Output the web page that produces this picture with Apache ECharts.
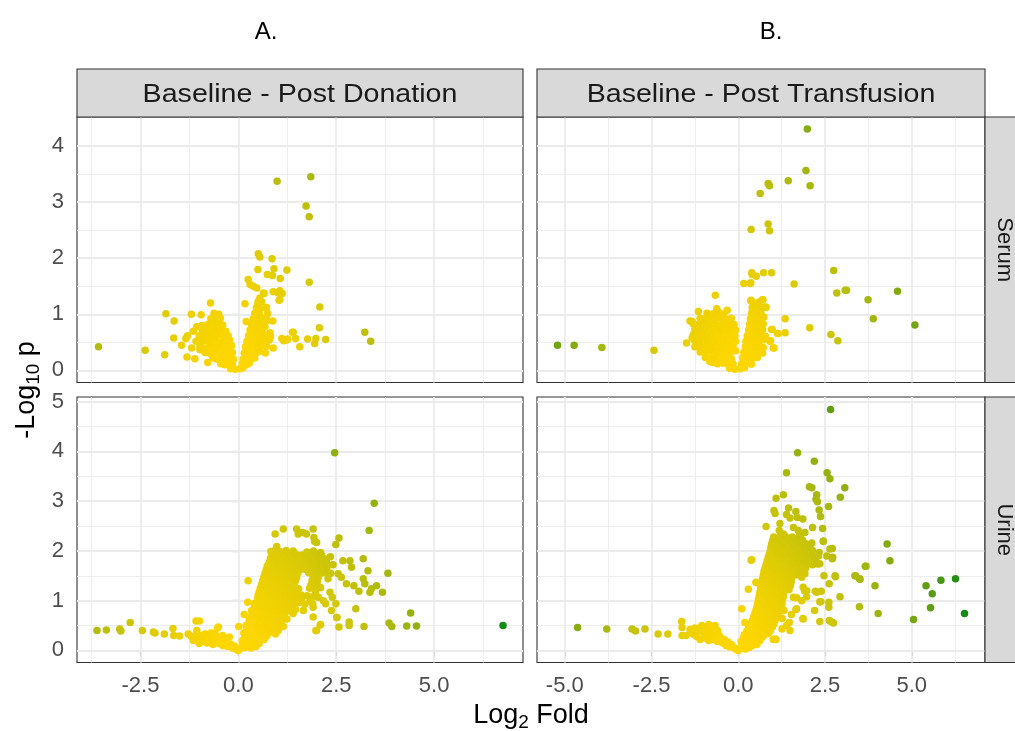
<!DOCTYPE html>
<html><head><meta charset="utf-8">
<script src="https://cdn.jsdelivr.net/npm/echarts@6/dist/echarts.min.js"></script>
<style>html,body{margin:0;padding:0;background:#fff}#c{width:1015px;height:731px}</style>
</head><body><div id="c"></div>
<script>
// ---------- data ----------
const columnTags = ['A.', 'B.'];
const panelTitles = ['Baseline - Post Donation', 'Baseline - Post Transfusion'];
const rowLabels = ['Serum', 'Urine'];
const xTitle = ['Log', '2', ' Fold'];
const yTitle = ['-Log', '10', ' p'];
const xTicksDonation = [-2.5, 0, 2.5, 5];
const xTicksTransfusion = [-5, -2.5, 0, 2.5, 5];
const xMinorTicks = [-3.75, -1.25, 1.25, 3.75, 6.25];
const yTicksSerum = [0, 1, 2, 3, 4];
const yTicksUrine = [0, 1, 2, 3, 4, 5];
const yMinorSerum = [0.5, 1.5, 2.5, 3.5];
const yMinorUrine = [0.5, 1.5, 2.5, 3.5, 4.5];

const serumDonation = [
[-3.57,0.42],[-2.38,0.36],[-1.88,0.28],[-1.85,1.01],[-1.64,0.88],[-1.65,0.58],[-1.34,0.57],[-1.31,0.24],[-1.2,1.0],[-1.11,0.21],[-0.95,0.99],[-0.78,0.14],[-0.71,1.2],
[-1.19,0.40],[-0.98,0.37],[-0.85,0.36],[-1.15,0.70],[-1.06,0.78],[-0.93,0.80],[-1.3,0.62],[-1.45,0.45],
[0.99,3.37],[1.85,3.45],[1.73,2.93],[1.81,2.74],[1.81,1.57],[2.08,1.13],[2.07,0.76],[3.23,0.68],[3.38,0.52],[2.23,0.55],[1.98,0.57],[1.95,0.48],[1.77,0.56],[1.57,0.42],[1.46,0.57],[1.38,0.68],[1.26,0.56],[1.16,0.53],[1.11,0.57],[1.23,0.54],[1.40,0.68],
[0.51,2.08],[0.55,2.02],[0.86,1.99],[0.50,1.80],[0.91,1.81],[1.24,1.79],[0.74,1.71],[0.87,1.69],[1.07,1.64],[0.25,1.62],[0.30,1.53],[0.38,1.50],[0.47,1.47],[0.66,1.37],[0.89,1.40],[1.06,1.42],[1.12,1.37],[1.04,1.25],[0.64,1.38],[1.02,1.38],[1.06,1.26],
[0.17,1.19],[0.55,1.29],[0.51,1.23],[0.72,1.12],[0.71,1.11],[0.88,0.88],[0.74,0.89],[0.75,1.01],[0.20,0.87],[0.68,0.78],[0.69,0.31],[0.82,0.60],[0.81,0.67],[0.79,0.54],[0.89,0.40],[0.72,0.43],[0.64,0.55],
[-0.2,0.03],[-0.08,0.02],[0.05,0.03],[0.12,0.05],
[-0.45,0.12],[-0.35,0.1],[-0.25,0.12],[-0.15,0.1],[0.1,0.12],[0.2,0.1],[0.28,0.13],
[-0.65,0.22],[-0.55,0.2],[-0.45,0.23],[-0.35,0.21],[-0.22,0.22],[-0.12,0.2],[0.12,0.2],[0.22,0.23],[0.32,0.2],[0.42,0.22],
[-0.85,0.32],[-0.72,0.3],[-0.6,0.33],[-0.48,0.31],[-0.36,0.33],[-0.25,0.3],[-0.15,0.32],[0.15,0.31],[0.26,0.33],[0.36,0.3],[0.47,0.32],[0.55,0.34],
[-0.98,0.42],[-0.85,0.4],[-0.72,0.43],[-0.6,0.41],[-0.48,0.43],[-0.36,0.4],[-0.25,0.42],[-0.17,0.44],[0.18,0.42],[0.28,0.4],[0.38,0.43],[0.5,0.41],[0.6,0.44],
[-1.08,0.52],[-0.95,0.5],[-0.82,0.53],[-0.7,0.51],[-0.58,0.53],[-0.46,0.5],[-0.34,0.52],[-0.22,0.54],[0.22,0.52],[0.32,0.5],[0.42,0.53],[0.52,0.51],[0.62,0.54],
[-1.0,0.62],[-0.88,0.6],[-0.75,0.63],[-0.63,0.61],[-0.5,0.63],[-0.38,0.6],[-0.26,0.62],[0.26,0.62],[0.36,0.6],[0.46,0.63],[0.56,0.61],[0.65,0.64],
[-0.92,0.72],[-0.8,0.7],[-0.68,0.73],[-0.55,0.71],[-0.43,0.73],[-0.32,0.7],[0.3,0.72],[0.4,0.7],[0.5,0.73],[0.6,0.71],
[-0.78,0.82],[-0.65,0.8],[-0.52,0.83],[-0.4,0.81],[0.34,0.82],[0.44,0.8],[0.54,0.83],[0.66,0.81],
[-0.7,0.92],[-0.58,0.9],[-0.46,0.93],[0.38,0.92],[0.5,0.9],[0.6,0.93],
[-0.62,1.02],[-0.5,1.0],[0.42,1.02],[0.54,1.0],
[0.46,1.12],[0.56,1.1],[0.5,1.2],[0.6,1.22]
];

const serumTransfusion = [
[1.99,4.30],[1.95,3.56],[1.44,3.38],[2.07,3.29],[0.86,3.33],[0.90,3.29],[0.63,3.15],[0.37,2.51],[0.86,2.61],[0.90,2.49],
[2.75,1.78],[0.40,1.71],[0.52,1.68],[0.73,1.74],[0.96,1.74],[0.39,1.74],[0.16,1.55],[0.34,1.55],[0.36,1.56],[1.61,1.54],[2.84,1.38],[3.08,1.43],[3.12,1.43],[3.74,1.26],[4.59,1.41],[3.89,0.92],[5.09,0.81],
[2.06,0.76],[2.67,0.64],[2.87,0.53],[1.35,0.92],[1.35,0.67],[1.13,0.66],[0.98,0.73],[0.93,0.53],[1.03,0.40],[0.91,0.52],[0.96,0.73],[1.15,0.66],[1.01,0.40],
[0.71,1.26],[0.70,1.26],[0.80,1.12],[0.79,1.13],[0.36,1.24],[0.37,1.25],[0.43,1.17],[-0.66,1.34],
[-5.21,0.45],[-4.73,0.45],[-3.93,0.41],[-2.43,0.36],[-1.49,0.49],[-1.33,0.58],[-1.25,0.42],[-1.03,0.39],[-1.33,0.87],[-1.15,1.05],[-0.62,1.10],[-0.32,1.07],[-0.82,0.16],[-1.39,0.88],
[-0.25,0.04],[-0.1,0.02],[0.05,0.03],[0.18,0.05],
[-0.75,0.14],[-0.6,0.12],[-0.45,0.13],[-0.3,0.11],[-0.15,0.12],[0.1,0.12],[0.25,0.13],[0.38,0.11],
[-0.95,0.23],[-0.8,0.22],[-0.65,0.24],[-0.5,0.22],[-0.35,0.23],[-0.2,0.21],[0.13,0.22],[0.28,0.24],[0.42,0.22],[0.55,0.23],
[-1.1,0.33],[-0.95,0.32],[-0.8,0.34],[-0.65,0.32],[-0.5,0.33],[-0.35,0.31],[-0.2,0.33],[-0.08,0.35],[0.16,0.32],[0.3,0.34],[0.44,0.32],[0.58,0.33],[0.7,0.31],
[-1.2,0.43],[-1.05,0.42],[-0.9,0.44],[-0.75,0.42],[-0.6,0.43],[-0.45,0.41],[-0.3,0.43],[-0.15,0.44],[0.2,0.42],[0.33,0.44],[0.47,0.42],[0.6,0.43],[0.72,0.41],
[-1.25,0.53],[-1.1,0.52],[-0.95,0.54],[-0.8,0.52],[-0.65,0.53],[-0.5,0.51],[-0.35,0.53],[-0.2,0.54],[-0.08,0.52],[0.22,0.52],[0.36,0.54],[0.5,0.52],[0.63,0.53],[0.75,0.55],
[-1.3,0.63],[-1.15,0.62],[-1.0,0.64],[-0.85,0.62],[-0.7,0.63],[-0.55,0.61],[-0.4,0.63],[-0.25,0.64],[-0.1,0.62],[0.26,0.62],[0.4,0.64],[0.53,0.62],[0.66,0.63],[0.78,0.61],
[-1.25,0.73],[-1.1,0.72],[-0.95,0.74],[-0.8,0.72],[-0.65,0.73],[-0.5,0.71],[-0.35,0.73],[-0.2,0.74],[-0.08,0.72],[0.3,0.72],[0.43,0.74],[0.56,0.72],[0.7,0.73],
[-1.3,0.83],[-1.15,0.82],[-1.0,0.84],[-0.85,0.82],[-0.7,0.83],[-0.55,0.81],[-0.4,0.83],[-0.25,0.84],[-0.12,0.82],[0.32,0.82],[0.45,0.84],[0.58,0.82],[0.72,0.83],
[-1.1,0.93],[-0.95,0.92],[-0.8,0.94],[-0.65,0.92],[-0.5,0.93],[-0.35,0.91],[-0.2,0.93],[0.35,0.92],[0.48,0.94],[0.6,0.92],[0.74,0.95],
[-0.9,1.02],[-0.72,1.01],[-0.55,1.03],[-0.42,1.0],[0.38,1.02],[0.52,1.01],[0.65,1.03],
[0.4,1.12],[0.55,1.11],[0.68,1.13],[0.45,1.2],[0.6,1.22]
];

const urineDonation = [
[-3.61,0.40],[-3.37,0.41],[-3.03,0.43],[-3.0,0.39],[-2.76,0.56],[-2.45,0.40],[-2.17,0.37],[-2.13,0.35],[-1.89,0.33],[-1.67,0.44],[-1.65,0.30],[-1.5,0.29],[-1.28,0.33],[-1.08,0.59],[-0.99,0.59],[-1.06,0.40],[-1.1,0.30],[-1.02,0.23],[-0.53,0.45],[-0.23,0.27],[-0.51,0.47],
[-1.2,0.28],[-1.15,0.2],[-0.95,0.3],[-0.92,0.18],[-0.85,0.26],[-0.8,0.15],[-0.75,0.22],[-0.68,0.27],[-0.65,0.12],[-0.6,0.2],[-0.55,0.28],[-0.5,0.14],[-0.45,0.22],[-0.4,0.1],[-0.35,0.17],[-0.3,0.24],[-0.28,0.08],[-0.2,0.13],[-0.15,0.05],[-0.1,0.09],[-0.05,0.02],[0,0],[-0.7,0.35],[-0.85,0.33],[-1.0,0.14],[-0.4,0.3],[-0.6,0.34],
[0.05,0.04],[0.18,0.06],[0.32,0.05],[0.45,0.08],
[0.11,0.12],[0.25,0.13],[0.39,0.12],[0.53,0.14],
[0.1,0.2],[0.24,0.19],[0.38,0.21],[0.52,0.2],[0.66,0.22],
[0.17,0.27],[0.31,0.28],[0.45,0.26],[0.59,0.27],[0.73,0.29],
[0.14,0.35],[0.28,0.34],[0.42,0.36],[0.56,0.35],[0.7,0.34],[0.84,0.37],[0.95,0.33],
[0.21,0.42],[0.35,0.43],[0.49,0.41],[0.63,0.42],[0.77,0.44],[0.91,0.42],[1.02,0.4],
[0.2,0.5],[0.34,0.49],[0.48,0.51],[0.62,0.5],[0.76,0.49],[0.9,0.52],[1.04,0.5],[1.15,0.48],
[0.27,0.57],[0.41,0.58],[0.55,0.56],[0.69,0.57],[0.83,0.59],[0.97,0.57],[1.1,0.56],
[0.28,0.65],[0.42,0.64],[0.56,0.66],[0.7,0.65],[0.84,0.64],[0.98,0.66],[1.12,0.65],[1.24,0.63],
[0.35,0.72],[0.49,0.73],[0.63,0.71],[0.77,0.72],[0.91,0.74],[1.05,0.72],[1.18,0.71],
[0.34,0.8],[0.48,0.79],[0.62,0.81],[0.76,0.8],[0.9,0.79],[1.04,0.81],[1.18,0.8],[1.32,0.79],[1.46,0.82],
[0.41,0.87],[0.55,0.88],[0.69,0.86],[0.83,0.87],[0.97,0.89],[1.11,0.87],[1.25,0.86],[1.39,0.88],
[0.42,0.95],[0.56,0.94],[0.7,0.96],[0.84,0.95],[0.98,0.94],[1.12,0.96],[1.26,0.95],[1.4,0.94],[1.54,0.96],[1.7,0.93],
[0.49,1.02],[0.63,1.03],[0.77,1.01],[0.91,1.02],[1.05,1.04],[1.19,1.02],[1.33,1.01],[1.47,1.03],[1.61,1.02],
[0.5,1.1],[0.64,1.09],[0.78,1.11],[0.92,1.1],[1.06,1.09],[1.2,1.11],[1.34,1.1],[1.48,1.09],[1.62,1.11],[1.76,1.1],[1.9,1.08],
[0.53,1.17],[0.67,1.18],[0.81,1.16],[0.95,1.17],[1.09,1.19],[1.23,1.17],[1.37,1.16],[1.51,1.18],[1.97,1.18],
[0.56,1.25],[0.7,1.24],[0.84,1.26],[0.98,1.25],[1.12,1.24],[1.26,1.26],[1.4,1.25],[1.54,1.24],[1.82,1.25],[1.96,1.24],[2.1,1.26],
[0.59,1.32],[0.73,1.33],[0.87,1.31],[1.01,1.32],[1.15,1.34],[1.29,1.32],[1.43,1.31],[1.85,1.31],[1.99,1.33],
[0.62,1.4],[0.76,1.39],[0.9,1.41],[1.04,1.4],[1.18,1.39],[1.32,1.41],[1.46,1.4],[1.88,1.4],[2.02,1.39],
[0.65,1.47],[0.79,1.48],[0.93,1.46],[1.07,1.47],[1.21,1.49],[1.35,1.47],[1.49,1.46],[1.91,1.46],[2.05,1.48],
[0.68,1.55],[0.82,1.54],[0.96,1.56],[1.1,1.55],[1.24,1.54],[1.38,1.56],[1.52,1.55],[1.8,1.56],[1.94,1.55],[2.08,1.54],[2.22,1.56],[2.36,1.55],
[0.71,1.62],[0.85,1.63],[0.99,1.61],[1.13,1.62],[1.27,1.64],[1.41,1.62],[1.55,1.61],[1.69,1.63],[1.83,1.62],[1.97,1.61],[2.11,1.63],[2.26,1.62],
[0.74,1.7],[0.88,1.69],[1.02,1.71],[1.16,1.7],[1.3,1.69],[1.44,1.71],[1.58,1.7],[1.72,1.69],[1.86,1.71],[2.0,1.7],[2.14,1.69],[2.28,1.71],[2.42,1.72],
[0.79,1.77],[0.93,1.78],[1.07,1.76],[1.21,1.77],[1.35,1.79],[1.49,1.77],[1.63,1.76],[1.77,1.78],[1.93,1.77],[2.09,1.76],[2.25,1.78],
[0.82,1.85],[0.96,1.84],[1.1,1.86],[1.24,1.85],[1.38,1.84],[1.52,1.86],[1.7,1.85],[1.86,1.84],[2.02,1.86],[2.18,1.85],[2.35,1.88],
[0.87,1.92],[1.01,1.93],[1.15,1.91],[1.3,1.92],[1.46,1.94],[1.62,1.92],[1.78,1.91],[1.96,1.93],[2.12,1.92],
[0.9,2.0],[1.06,1.99],[1.22,2.01],[1.4,2.0],[1.75,1.98],[1.92,2.0],[2.1,1.97],
[0.83,1.99],[0.98,2.09],[0.94,2.34],[1.15,2.44],[1.49,2.44],[1.53,2.34],[1.64,2.37],[1.91,2.44],[1.93,2.27],[2.0,2.17],[1.74,2.34],[1.95,2.19],[2.57,2.26],[2.49,2.13],[3.34,2.41],[2.46,3.97],[3.47,2.96],
[2.67,1.8],[2.85,1.8],[3.19,1.84],[2.89,1.67],[3.31,1.6],[3.82,1.55],[2.76,1.34],[2.95,1.30],[3.08,1.19],[3.19,1.44],[3.23,1.34],[3.4,1.24],[3.53,1.30],[3.68,1.17],[3.36,1.17],[2.63,1.47],[2.55,1.54],[2.29,1.44],[2.34,1.17],[2.4,1.07],[2.23,0.94],[2.38,0.8],[2.49,0.94],[3.0,0.84],[2.51,0.66],[2.83,0.57],[2.83,0.50],[2.57,0.47],[3.21,0.48],[3.85,0.55],[3.92,0.48],[4.3,0.49],[4.55,0.49],[4.4,0.75],[2.1,0.52],[2.0,0.4],[1.91,0.67],[2.08,1.27],[2.04,1.07],[2.17,1.0],[1.83,1.0],[1.91,0.87],[1.4,0.74],[6.76,0.50],
[1.66,0.8],[1.9,0.94],[1.98,0.4],[2.09,0.51],[2.52,0.66],
[0.25,1.40],[0.24,0.97],[0.15,0.72],[0.01,0.48]
];

const urineTransfusion = [
[-4.63,0.46],[-3.79,0.43],[-3.06,0.43],[-2.96,0.39],[-2.69,0.43],[-2.31,0.33],[-2.03,0.33],[-1.63,0.58],[-1.62,0.46],[-1.62,0.30],[-1.5,0.30],[-1.39,0.42],[-1.28,0.32],
[-1.05,0.5],[-0.95,0.47],[-0.85,0.52],[-0.75,0.45],[-0.67,0.5],[-1.1,0.4],[-1.0,0.35],[-0.9,0.38],[-0.8,0.34],[-0.7,0.36],[-0.6,0.4],[-0.55,0.3],[-1.2,0.28],[-1.1,0.22],[-0.95,0.25],[-0.85,0.2],[-0.7,0.22],[-0.6,0.18],[-0.5,0.25],[-0.45,0.15],[-0.4,0.22],[-0.35,0.1],[-0.3,0.17],[-0.25,0.07],[-0.2,0.12],[-0.12,0.05],[-0.05,0.02],[0,0],[-1.35,0.35],[-1.25,0.45],
[0.05,0.05],[0.2,0.03],[0.32,0.06],
[0.12,0.11],[0.26,0.12],[0.4,0.1],[0.54,0.12],
[0.08,0.18],[0.22,0.17],[0.36,0.19],[0.5,0.18],[0.62,0.2],
[0.14,0.25],[0.28,0.26],[0.42,0.24],[0.56,0.25],[0.7,0.27],
[0.18,0.32],[0.32,0.31],[0.46,0.33],[0.6,0.32],[0.74,0.31],[0.86,0.34],
[0.25,0.39],[0.39,0.4],[0.53,0.38],[0.67,0.39],[0.81,0.41],[0.92,0.39],
[0.3,0.46],[0.44,0.45],[0.58,0.47],[0.72,0.46],[0.86,0.45],[0.98,0.47],
[0.36,0.53],[0.5,0.54],[0.64,0.52],[0.78,0.53],[0.92,0.55],[1.03,0.53],
[0.4,0.6],[0.54,0.59],[0.68,0.61],[0.82,0.6],[0.96,0.59],[1.08,0.62],
[0.44,0.67],[0.58,0.68],[0.72,0.66],[0.86,0.67],[1.0,0.69],[1.12,0.67],
[0.48,0.74],[0.62,0.73],[0.76,0.75],[0.9,0.74],[1.04,0.73],[1.16,0.76],
[0.51,0.81],[0.65,0.82],[0.79,0.8],[0.93,0.81],[1.07,0.83],[1.2,0.81],
[0.54,0.88],[0.68,0.87],[0.82,0.89],[0.96,0.88],[1.1,0.87],[1.24,0.9],
[0.56,0.95],[0.7,0.96],[0.84,0.94],[0.98,0.95],[1.12,0.97],[1.26,0.95],
[0.58,1.02],[0.72,1.01],[0.86,1.03],[1.0,1.02],[1.14,1.01],[1.28,1.04],
[0.6,1.09],[0.74,1.1],[0.88,1.08],[1.02,1.09],[1.16,1.11],[1.3,1.09],
[0.62,1.16],[0.76,1.15],[0.9,1.17],[1.04,1.16],[1.18,1.15],[1.32,1.18],
[0.64,1.23],[0.78,1.24],[0.92,1.22],[1.06,1.23],[1.2,1.25],[1.34,1.23],[1.46,1.22],
[0.66,1.3],[0.8,1.29],[0.94,1.31],[1.08,1.3],[1.22,1.29],[1.36,1.32],[1.5,1.3],
[0.68,1.37],[0.82,1.38],[0.96,1.36],[1.1,1.37],[1.24,1.39],[1.38,1.37],[1.52,1.36],
[0.7,1.44],[0.84,1.43],[0.98,1.45],[1.12,1.44],[1.26,1.43],[1.4,1.46],[1.54,1.44],
[0.72,1.51],[0.86,1.52],[1.0,1.5],[1.14,1.51],[1.28,1.53],[1.42,1.51],[1.56,1.5],[1.68,1.52],
[0.74,1.58],[0.88,1.57],[1.02,1.59],[1.16,1.58],[1.3,1.57],[1.44,1.6],[1.58,1.58],[1.75,1.6],
[0.77,1.65],[0.91,1.66],[1.05,1.64],[1.19,1.65],[1.33,1.67],[1.47,1.65],[1.62,1.64],[1.78,1.66],[1.94,1.65],
[0.8,1.72],[0.94,1.71],[1.08,1.73],[1.22,1.72],[1.36,1.71],[1.5,1.74],[1.66,1.72],[1.82,1.71],[1.98,1.73],[2.14,1.72],[2.3,1.74],
[0.83,1.79],[0.97,1.8],[1.11,1.78],[1.25,1.79],[1.4,1.81],[1.56,1.79],[1.72,1.78],[1.88,1.8],[2.04,1.79],[2.2,1.78],
[0.86,1.86],[1.0,1.85],[1.14,1.87],[1.28,1.86],[1.42,1.85],[1.58,1.88],[1.74,1.86],[1.9,1.85],[2.06,1.87],[2.22,1.86],
[0.89,1.93],[1.03,1.94],[1.17,1.92],[1.32,1.93],[1.48,1.95],[1.64,1.93],[1.8,1.92],[1.96,1.94],[2.12,1.93],
[0.92,2.0],[1.06,1.99],[1.2,2.01],[1.34,2.0],[1.5,1.99],[1.66,2.02],[1.82,2.0],[1.98,1.99],[2.14,2.01],
[0.94,2.07],[1.08,2.08],[1.23,2.06],[1.39,2.07],[1.56,2.09],[1.73,2.07],[1.9,2.06],[2.06,2.08],
[0.96,2.14],[1.1,2.13],[1.26,2.15],[1.42,2.14],[1.6,2.13],[1.78,2.15],[1.96,2.14],[2.12,2.16],
[0.99,2.21],[1.14,2.22],[1.3,2.2],[1.48,2.21],[1.66,2.23],[1.86,2.21],
[1.02,2.28],[1.18,2.27],[1.36,2.29],[1.56,2.28],[1.76,2.3],
[1.20,2.55],[1.18,2.41],[1.30,2.34],[1.59,2.47],[1.73,2.41],[1.80,2.33],[1.92,2.37],[2.14,2.47],[2.43,2.45],[1.39,2.73],[1.49,2.66],[1.45,2.86],[1.66,2.79],[1.70,2.67],[1.86,2.64],[1.03,2.81],[1.06,2.75],[1.09,3.06],[1.30,3.13],[1.39,3.57],[1.71,3.97],[2.19,3.80],[2.56,3.57],[2.64,3.45],[3.07,3.27],[2.94,3.08],[2.05,3.29],[2.12,3.27],[2.26,3.13],[2.24,3.04],[2.28,2.99],[2.6,2.89],[2.33,2.82],[2.37,2.69],[0.80,2.49],[2.66,4.84],[2.45,2.19],[2.71,2.05],[2.55,1.90],[2.71,1.84],
[4.29,2.14],[4.37,1.80],[3.66,1.69],[3.38,1.5],[3.51,1.43],[3.94,1.30],[3.49,0.88],[4.03,0.74],[5.05,0.62],[5.41,1.30],[5.59,1.14],[5.54,0.86],[5.84,1.41],[6.26,1.44],[6.52,0.74],
[2.8,1.48],[2.93,1.08],[2.62,1.34],[2.61,0.97],[2.61,0.87],[2.35,0.98],[2.2,0.8],[1.87,0.63],[2.35,0.58],[2.64,0.59],[2.74,0.55],[1.47,0.56],[1.26,0.43],[1.01,0.22],[1.09,0.22],[2.22,1.19],[2.39,1.19],[1.91,1.2],[1.97,1.08],[1.68,1.06],[1.66,0.82],[1.53,0.72],
[2.45,2.2],[2.64,2.04],[2.72,1.87],[2.33,1.97],[2.35,1.74],[2.47,1.5],[2.79,1.5],[2.26,1.17],[2.38,0.98],[2.62,0.6],[2.72,0.56],[1.86,0.64],[3.36,1.5],[3.49,1.44],[3.68,1.69],
[1.59,1.07],[1.68,0.84],[1.83,1.0],[1.87,1.27],[1.97,1.2],[1.92,1.54],[1.83,1.47],[1.90,1.6],[2.26,1.74],[2.21,1.84],[2.31,1.9],
[1.06,0.23],[1.39,0.5],[1.49,0.4],[1.27,0.64],[1.32,0.8],
[0.37,1.81],[0.39,1.82],[0.52,1.36],[0.51,1.37],[0.29,1.23],[0.10,0.84],[0.19,0.56]
];

// ---------- colour scale (gold -> green, Lab interpolation) ----------
const lowColour = [255, 215, 0];
const highColour = [20, 140, 20];
function toLin(c){c/=255;return c<=0.04045?c/12.92:Math.pow((c+0.055)/1.055,2.4);}
function fromLin(c){const v=c<=0.0031308?12.92*c:1.055*Math.pow(c,1/2.4)-0.055;return Math.round(Math.min(1,Math.max(0,v))*255);}
function rgbToLab(rgb){const r=toLin(rgb[0]),g=toLin(rgb[1]),b=toLin(rgb[2]);
  const X=(0.4124564*r+0.3575761*g+0.1804375*b)/0.95047,Y=0.2126729*r+0.7151522*g+0.0721750*b,Z=(0.0193339*r+0.1191920*g+0.9503041*b)/1.08883;
  const f=t=>t>216/24389?Math.cbrt(t):(24389/27*t+16)/116;
  const fx=f(X),fy=f(Y),fz=f(Z);return [116*fy-16,500*(fx-fy),200*(fy-fz)];}
function labToRgb(lab){const fy=(lab[0]+16)/116,fx=fy+lab[1]/500,fz=fy-lab[2]/200;
  const inv=t=>{const t3=t*t*t;return t3>216/24389?t3:(116*t-16)/(24389/27);};
  const X=inv(fx)*0.95047,Y=inv(fy),Z=inv(fz)*1.08883;
  const r=3.2404542*X-1.5371385*Y-0.4985314*Z,g=-0.9692660*X+1.8760108*Y+0.0415560*Z,b=0.0556434*X-0.2040259*Y+1.0572252*Z;
  return 'rgb('+fromLin(r)+','+fromLin(g)+','+fromLin(b)+')';}
const labLow = rgbToLab(lowColour), labHigh = rgbToLab(highColour);
function maxDist(arrs){let m=0;arrs.forEach(a=>a.forEach(p=>{m=Math.max(m,Math.hypot(p[0],p[1]));}));return m;}
const maxA = maxDist([serumDonation, urineDonation]);
const maxB = maxDist([serumTransfusion, urineTransfusion]);
function colourFor(maxD){return function(params){const v=params.value;const t=Math.pow(Math.min(1,Math.hypot(v[0],v[1])/maxD),1.6);
  return labToRgb([labLow[0]+(labHigh[0]-labLow[0])*t,labLow[1]+(labHigh[1]-labLow[1])*t,labLow[2]+(labHigh[2]-labLow[2])*t]);};}

// ---------- layout ----------
const FONT = 'Liberation Sans, Arial, sans-serif';
const cols = [{left:77,width:446},{left:537,width:448}];
const rows = [{top:117,height:265.5},{top:397,height:265.5}];
const xRanges = [[-4.12,7.27],[-5.8,7.11]];
const yRanges = [[-0.215,4.515],[-0.2425,5.0925]];
const xTicks = [xTicksDonation, xTicksTransfusion];
const yTicks = [yTicksSerum, yTicksUrine];
const yMinor = [yMinorSerum, yMinorUrine];
const panelData = [[serumDonation, serumTransfusion],[urineDonation, urineTransfusion]];
const maxes = [maxA, maxB];

const grids=[], xAxes=[], yAxes=[], series=[];
for (let r=0;r<2;r++) for (let c=0;c<2;c++){
  const gi = grids.length;
  grids.push({left:cols[c].left, top:rows[r].top, width:cols[c].width, height:rows[r].height,
    show:true, backgroundColor:'#fff', borderColor:'#333333', borderWidth:1.1, containLabel:false});
  const showX = r===1, showY = c===0;
  xAxes.push({type:'value', gridIndex:gi, min:xRanges[c][0], max:xRanges[c][1],
    axisLine:{show:false}, splitLine:{show:false},
    axisTick:{show:showX, customValues:xTicks[c], length:6, lineStyle:{color:'#333333', width:1.1}},
    axisLabel:{show:showX, customValues:xTicks[c], margin:12, color:'#4D4D4D', fontSize:22, fontFamily:FONT,
      formatter:v=>Number(v).toFixed(1)}});
  yAxes.push({type:'value', gridIndex:gi, min:yRanges[r][0], max:yRanges[r][1],
    axisLine:{show:false}, splitLine:{show:false},
    axisTick:{show:showY, customValues:yTicks[r], length:6, lineStyle:{color:'#333333', width:1.1}},
    axisLabel:{show:showY, customValues:yTicks[r], margin:13, color:'#4D4D4D', fontSize:22, fontFamily:FONT,
      formatter:v=>String(v)}});
  const gridLines = [];
  xTicks[c].forEach(v=>gridLines.push({xAxis:v, lineStyle:{width:1.8}}));
  xMinorTicks.forEach(v=>{ if (v>xRanges[c][0] && v<xRanges[c][1]) gridLines.push({xAxis:v, lineStyle:{width:0.9}}); });
  yTicks[r].forEach(v=>gridLines.push({yAxis:v, lineStyle:{width:1.8}}));
  yMinor[r].forEach(v=>gridLines.push({yAxis:v, lineStyle:{width:0.9}}));
  series.push({type:'scatter', xAxisIndex:gi, yAxisIndex:gi, data:panelData[r][c], symbol:'circle', symbolSize:7.5,
    z:3, silent:true, animation:false,
    itemStyle:{color:colourFor(maxes[c]), opacity:1},
    markLine:{silent:true, symbol:['none','none'], animation:false, z:1, label:{show:false},
      lineStyle:{color:'#EBEBEB', type:'solid'}, emphasis:{disabled:true}, data:gridLines}});
}

// ---------- graphics: strips, titles ----------
const graphics = [];
function strip(x,y,w,h){graphics.push({type:'rect', shape:{x:x,y:y,width:w,height:h}, style:{fill:'#D9D9D9', stroke:'#333333', lineWidth:1.1}, z:10});}
function label(txt,x,y,size,rot,color,scaleX){graphics.push({type:'text', x:x, y:y, rotation:rot||0, scaleX:scaleX||1, z:11,
  style:{text:txt, x:0, y:0, textAlign:'center', textVerticalAlign:'middle', fontSize:size, fontFamily:FONT, fill:color||'#000'}});}
for (let c=0;c<2;c++){
  strip(cols[c].left, 69, cols[c].width, 48);
  label(panelTitles[c], cols[c].left+cols[c].width/2, 95, 26, 0, '#1A1A1A', 1.1);
}
label(columnTags[0], 266, 32, 24, 0, '#000');
label(columnTags[1], 771, 32, 24, 0, '#000');
for (let r=0;r<2;r++){
  strip(985, rows[r].top, 40, rows[r].height);
  label(rowLabels[r], 1004, rows[r].top+rows[r].height/2, 22, -Math.PI/2, '#1A1A1A');
}
function richTitle(parts,x,y,rot){graphics.push({type:'text', x:x, y:y, rotation:rot, z:11,
  style:{text:'{a|'+parts[0]+'}{s|'+parts[1]+'}{a|'+parts[2]+'}', x:0, y:0, textAlign:'center', textVerticalAlign:'middle',
    rich:{a:{fontSize:27, fontFamily:FONT, fill:'#000', lineHeight:30}, s:{fontSize:19, fontFamily:FONT, fill:'#000', padding:[14,0,0,0], lineHeight:30}}}});}
richTitle(xTitle, 531, 716, 0);
richTitle(yTitle, 27, 390, Math.PI/2);

const chart = echarts.init(document.getElementById('c'), null, {renderer:'canvas'});
chart.setOption({animation:false, grid:grids, xAxis:xAxes, yAxis:yAxes, series:series, graphic:graphics});
</script></body></html>
